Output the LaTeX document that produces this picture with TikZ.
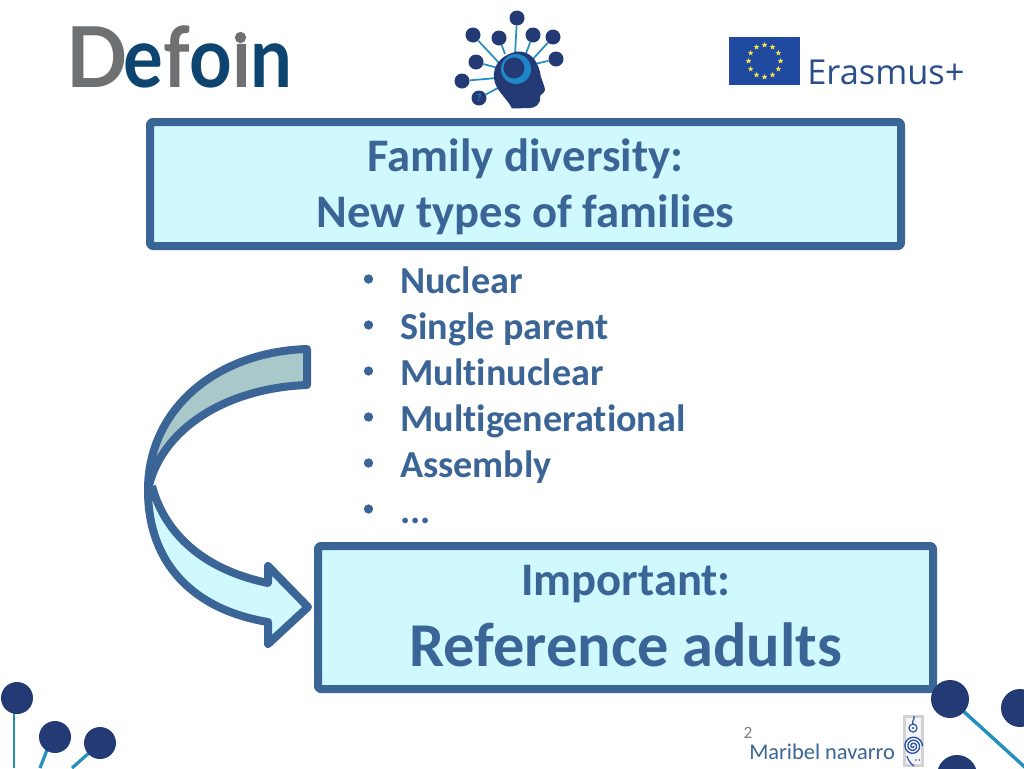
\documentclass[tikz,border=0pt]{standalone}
\usepackage{fontspec}
\setmainfont{Carlito}[Ligatures=CommonOff]
\newfontfamily\logofont{Lato}
\newfontfamily\erasfont{Open Sans}
\usetikzlibrary{shapes.geometric}
\definecolor{edgeblue}{HTML}{3A6596}
\definecolor{paleblue}{HTML}{CFF9FF}
\definecolor{greygreen}{HTML}{A9C8C9}
\definecolor{navy}{HTML}{233A75}
\definecolor{teal}{HTML}{2490BE}
\definecolor{ringblue}{HTML}{1F86C8}
\definecolor{logogrey}{HTML}{6F7072}
\definecolor{logonavy}{HTML}{0E4570}
\definecolor{euflag}{HTML}{1F4AA0}
\definecolor{euyellow}{HTML}{F2E34A}
\definecolor{erasmus}{HTML}{2A4E8C}
\definecolor{spiralblue}{HTML}{2A52A8}
\tikzset{
 panel/.style={draw=edgeblue,fill=paleblue,line width=6pt,rounded corners=2pt,line join=round},
 ball/.style={circle,fill=navy,inner sep=0pt,minimum size=#1*0.75pt},
 stem/.style={draw=teal,line width=1.7pt},
 hair/.style={draw=teal,line width=1.3pt},
 head/.style={text=edgeblue,font=\bfseries\fontsize{35}{40}\selectfont,inner sep=0pt,anchor=base},
 listitem/.style={text=edgeblue,font=\bfseries\fontsize{28.6}{32}\selectfont,inner sep=0pt,anchor=base west},
 bulletdot/.style={circle,fill=edgeblue,inner sep=0pt,minimum size=7pt},
 arrowshape/.style={draw=edgeblue,line width=6pt,line join=round},
 star5/.style={star,star points=5,star point ratio=2.4,fill=euyellow,inner sep=0pt,minimum size=4.5pt}
}
\begin{document}
\begin{tikzpicture}[x=0.75pt,y=-0.75pt]
\useasboundingbox (0,0) rectangle (1024,768);
\fill[white] (0,0) rectangle (1024,768);

% Defoin logo
\node[inner sep=0pt,anchor=base west,font=\logofont\bfseries\fontsize{63}{63}\selectfont] (defoin) at (66,87)
 {\scalebox{0.96}[1]{\textcolor{logogrey}{D}}\kern-3pt\scalebox{0.885}[1]{\textcolor{logonavy}{e}\textcolor{logogrey}{f}\textcolor{logonavy}{o}\textcolor{logogrey}{\i}\kern-0.02em\textcolor{logonavy}{n}}};
\node[circle,fill=logogrey,inner sep=0pt,minimum size=8.5pt] (idot) at (240.5,37.5) {};

% head logo
\foreach \n/\x/\y/\e/\f in {a/517/18/515/55,b/473/35/500/64,c/499/38/505/54,d/533/35/525/56,e/553/37/532/60,f/556/59/535/64,g/476/62/498/68,h/462/81/497/78,i/479/98/498/88}{
  \node[ball=15] (lg\n) at (\x,\y) {};
  \coordinate (lt\n) at (\e,\f);
  \draw[hair] (lg\n) -- (lt\n);
}
\fill[navy] (517,51.5) .. controls (530,51) and (537,60) .. (540,72) .. controls (541,80) and (545,86) .. (545,90) .. controls (544,94) and (540,94) .. (540,97) .. controls (541,104) and (535,108) .. (530,108) -- (512,108.5) .. controls (508,100) and (498,92) .. (495,83) .. controls (491,70) and (497,56) .. (517,51.5) -- cycle;
\node[circle,fill=ringblue,inner sep=0pt,minimum size=30*0.75pt] (ring) at (516,69) {};
\node[circle,fill=navy,inner sep=0pt,minimum size=21*0.75pt] (pupil) at (514,68) {};
\node[text=ringblue,font=\bfseries\fontsize{8}{8}\selectfont,inner sep=0pt] (qm) at (479,98) {?};

% Erasmus+ logo
\fill[euflag] (729,37) rectangle (800,85);
\foreach \k in {1,2,3,4,5,6,7,8,9,10,11,12}{
  \node[star5] at ({764.5+16*cos(30*\k)},{61+16*sin(30*\k)}) {};
}
\node[inner sep=0pt,anchor=base west,text=erasmus,font=\erasfont\fontsize{25.8}{27}\selectfont] (erasmus) at (807,84) {Erasmus+};

% top panel
\draw[panel] (150,122) rectangle (901,246);
\node[head] (t1) at (525.5,171) {Family diversity:};
\node[head] (t2) at (525.5,227) {New types of families};

% list
\foreach \n/\ya/\yb/\t in {1/279/293/Nuclear,2/325/339/Single parent,3/371/385/Multinuclear,4/417/431/Multigenerational,5/463/477/Assembly}{
  \node[bulletdot] (b\n) at (368.5,\ya) {};
  \node[listitem] (l\n) at (400,\yb) {\t};
}
\node[bulletdot] (b6) at (368.5,509) {};
\node[listitem] (l6) at (400,523) {...};

% curved arrow
\fill[paleblue] (150,487) .. controls (165,535) and (205,570) .. (268,583) -- (268,566) -- (306,607) -- (268,644) -- (268,622) .. controls (195,610) and (148,565) .. (148,500) -- cycle;
\draw[arrowshape] (152,486) .. controls (165,535) and (205,570) .. (268,583) -- (268,566) -- (308,607) -- (268,644) -- (268,622) .. controls (195,610) and (148,565) .. (148,490);
\draw[arrowshape,fill=greygreen] (307,349) .. controls (215,352) and (148,410) .. (148,490) .. controls (160,430) and (225,388) .. (307,385) -- cycle;

% bottom panel
\draw[panel] (318,546) rectangle (933,689);
\node[head] (i1) at (626,595) {Important:};
\node[head,font=\bfseries\fontsize{46.8}{52}\selectfont] (i2) at (626,666) {Reference adults};

% corner dots left
\coordinate (s1) at (14,768); \coordinate (s2) at (40,768); \coordinate (s3) at (72,768);
\draw[stem] (14,700) -- (s1);
\draw[stem,line width=2.4pt] (52,737) -- (s2);
\draw[stem,line width=2.4pt] (98,745) -- (s3);
\node[ball=32] (c1) at (17,698) {};
\node[ball=32] (c2) at (55,737) {};
\node[ball=32] (c3) at (100,743) {};

% corner dots right
\coordinate (s4) at (1028,770);
\draw[stem,line width=2.6pt] (950,699) -- (s4);
\node[ball=38] (c4) at (950,699) {};
\node[ball=38] (c5) at (1020,708) {};
\node[ball=40] (c6) at (957,775) {};

% footer
\node[text=gray,font=\fontsize{13}{13}\selectfont,inner sep=0pt,anchor=base] (pg) at (748,738) {2};
\node[text=edgeblue,font=\fontsize{16.8}{18}\selectfont,inner sep=0pt,anchor=base west] (mb) at (749,759) {Maribel navarro};

% spiral emblem
\fill[gray!35] (903,715) rectangle (924,767);
\fill[white!92!gray] (906,718) rectangle (921,764);
\draw[spiralblue,line width=1pt] plot[domain=0:1080,samples=80,smooth] ({913+(0.5+9*\x/1080)*cos(\x)},{746+(0.5+9*\x/1080)*sin(\x)});
\draw[spiralblue,line width=0.9pt] (913,728) circle[radius=4];
\fill[spiralblue] (913,728) circle[radius=1.2];
\draw[spiralblue,line width=0.9pt] (913,724) .. controls (911,721) and (915,720) .. (914,716);
\draw[spiralblue,line width=0.9pt] (907,756) .. controls (908,760) and (910,763) .. (914,766);
\fill[spiralblue] (916,760) circle[radius=0.9] (919.5,760) circle[radius=0.9];
\end{tikzpicture}
\end{document}
